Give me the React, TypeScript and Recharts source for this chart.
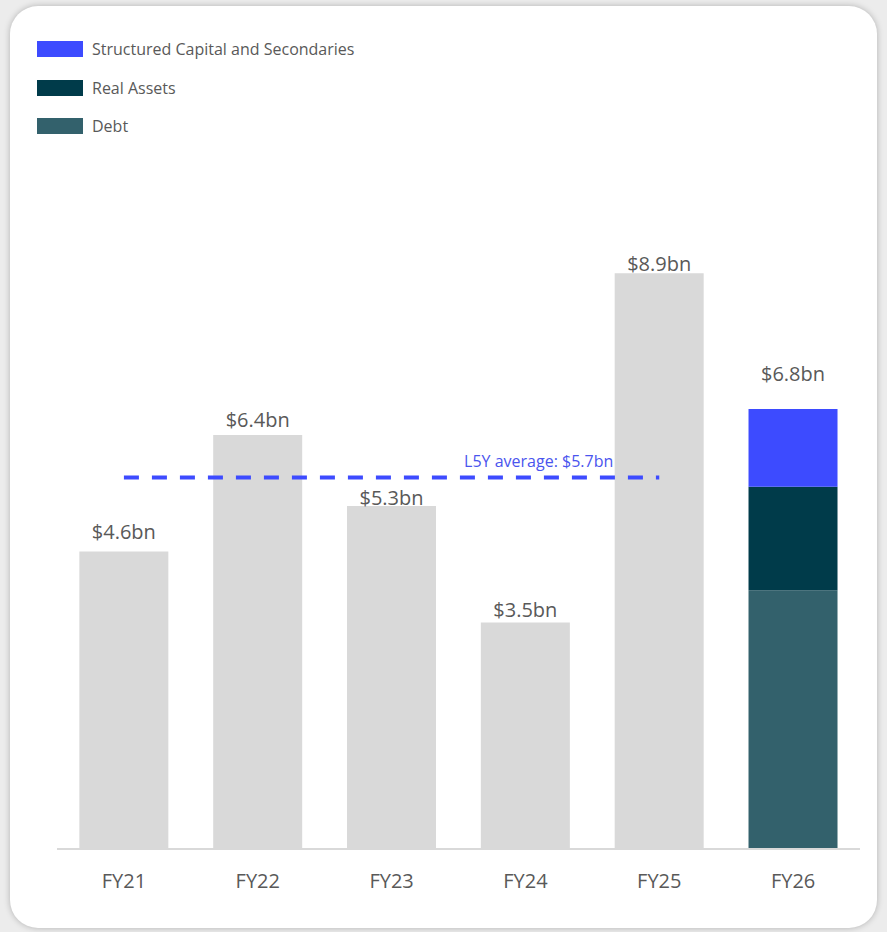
import { BarChart, Bar, XAxis, YAxis, ReferenceLine, LabelList } from 'recharts';

const years = ['FY21', 'FY22', 'FY23', 'FY24', 'FY25', 'FY26'];
const totals = [4.6, 6.4, 5.3, 3.5, 8.9, 6.8];
// FY26 split by strategy
const debt = [0, 0, 0, 0, 0, 4.0];
const realAssets = [0, 0, 0, 0, 0, 1.6];
const structured = [0, 0, 0, 0, 0, 1.2];
const average = 5.74;

// distance (px) from bar top to the middle of its value label
const labelLift = [20, 15, 9, 13, 10, 36];

const GREY = '#d9d9d9';
const BLUE = '#3d4bff';
const TEAL_DARK = '#003b4a';
const TEAL = '#33616c';
const TEXT = '#595959';
const FONT = '"Open Sans", sans-serif';

const data = years.map((year, i) => ({
  year,
  past: i < 5 ? totals[i] : 0,
  debt: debt[i],
  realAssets: realAssets[i],
  structured: structured[i],
}));

const legendItems = [
  { name: 'Structured Capital and Secondaries', color: BLUE },
  { name: 'Real Assets', color: TEAL_DARK },
  { name: 'Debt', color: TEAL },
];

const ValueLabel = (show: (i: number) => boolean) => (props: any) => {
  const { x, y, width, value } = props;
  const i = years.indexOf(value);
  if (i < 0 || !show(i)) return null;
  return (
    <text
      x={x + width / 2}
      y={y - labelLift[i]}
      textAnchor="middle"
      dominantBaseline="central"
      fill={TEXT}
      fontSize={20}
      fontFamily={FONT}
    >
      {`$${totals[i].toFixed(1)}bn`}
    </text>
  );
};

const AvgLabel = (props: any) => {
  const { viewBox } = props;
  if (!viewBox) return null;
  return (
    <text
      x={viewBox.x + viewBox.width - 46}
      y={viewBox.y - 17}
      textAnchor="end"
      dominantBaseline="central"
      fill="#4a55ee"
      fontSize={16}
      fontFamily={FONT}
    >
      {`L5Y average: $${average.toFixed(1)}bn`}
    </text>
  );
};

export default function App() {
  return (
    <div style={{ position: 'absolute', left: 0, top: 0, width: 887, height: 932, background: '#ececec', overflow: 'hidden' }}>
      <div
        style={{
          position: 'absolute',
          left: 10,
          top: 6,
          width: 867,
          height: 922,
          background: '#fff',
          borderRadius: 28,
          boxShadow: '0 0 6px rgba(0,0,0,0.25)',
        }}
      />
      <div style={{ position: 'absolute', left: 37, top: 41, fontFamily: FONT, fontSize: 16, color: TEXT }}>
        {legendItems.map((item) => (
          <div key={item.name} style={{ display: 'flex', alignItems: 'center', height: 16, marginBottom: 22.5 }}>
            <div style={{ width: 46, height: 16, background: item.color, marginRight: 9 }} />
            <span style={{ lineHeight: '16px' }}>{item.name}</span>
          </div>
        ))}
      </div>
      <div style={{ position: 'absolute', left: 0, top: 0 }}>
        <BarChart
          width={887}
          height={932}
          data={data}
          margin={{ top: 202, right: 27, bottom: 43, left: 57 }}
          barCategoryGap="16.7%"
        >
          <XAxis
            dataKey="year"
            height={40}
            axisLine={{ stroke: GREY, strokeWidth: 2 }}
            tickLine={false}
            tickMargin={19}
            tick={{ fill: TEXT, fontSize: 20, fontFamily: FONT }}
            interval={0}
          />
          <YAxis hide domain={[0, 10]} />
          <Bar dataKey="past" stackId="s" fill={GREY} isAnimationActive={false}>
            <LabelList dataKey="year" content={ValueLabel((i) => i < 5)} />
          </Bar>
          <Bar dataKey="debt" stackId="s" fill={TEAL} isAnimationActive={false} />
          <Bar dataKey="realAssets" stackId="s" fill={TEAL_DARK} isAnimationActive={false} />
          <Bar dataKey="structured" stackId="s" fill={BLUE} isAnimationActive={false}>
            <LabelList dataKey="year" content={ValueLabel((i) => i === 5)} />
          </Bar>
          <ReferenceLine
            segment={[
              { x: 'FY21', y: average },
              { x: 'FY25', y: average },
            ]}
            stroke={BLUE}
            strokeWidth={4}
            strokeDasharray="15 13"
            label={<AvgLabel />}
          />
        </BarChart>
      </div>
    </div>
  );
}
